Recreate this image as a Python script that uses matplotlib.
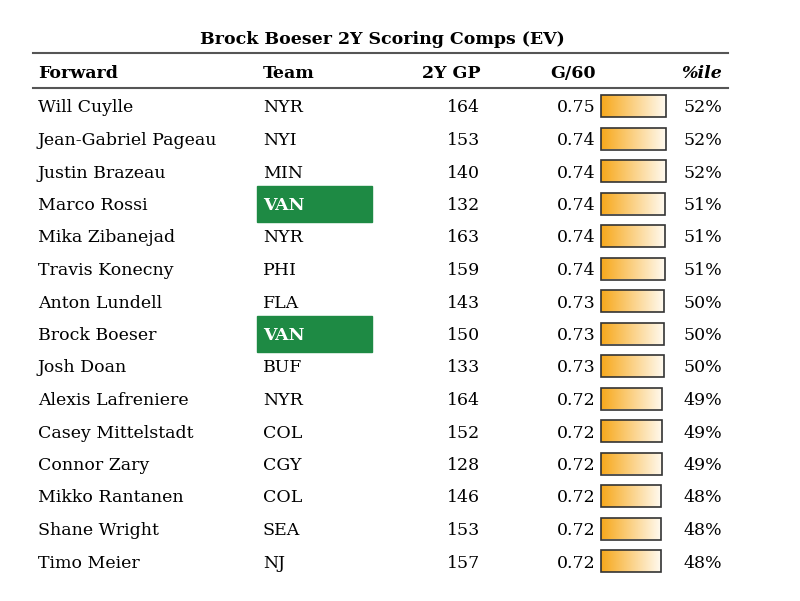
import numpy as np
import matplotlib.pyplot as plt
from matplotlib.colors import LinearSegmentedColormap

players = ["Will Cuylle", "Jean-Gabriel Pageau", "Justin Brazeau", "Marco Rossi",
           "Mika Zibanejad", "Travis Konecny", "Anton Lundell", "Brock Boeser",
           "Josh Doan", "Alexis Lafreniere", "Casey Mittelstadt", "Connor Zary",
           "Mikko Rantanen", "Shane Wright", "Timo Meier"]
teams = ["NYR", "NYI", "MIN", "VAN", "NYR", "PHI", "FLA", "VAN", "BUF", "NYR",
         "COL", "CGY", "COL", "SEA", "NJ"]
gp = [164, 153, 140, 132, 163, 159, 143, 150, 133, 164, 152, 128, 146, 153, 157]
g60 = [0.75, 0.74, 0.74, 0.74, 0.74, 0.74, 0.73, 0.73, 0.73, 0.72, 0.72, 0.72, 0.72, 0.72, 0.72]
pct = [52, 52, 52, 51, 51, 51, 50, 50, 50, 49, 49, 49, 48, 48, 48]

font = "DejaVu Serif"
fs = 12.5
fig = plt.figure(figsize=(8, 6.01), dpi=100)
ax = fig.add_axes([0, 0, 1, 1])
ax.set_xlim(0, 800)
ax.set_ylim(601, 0)
ax.axis("off")

kw = dict(family=font, va="center_baseline")
ax.text(382, 38, "Brock Boeser 2Y Scoring Comps (EV)", ha="center",
        fontsize=12.5, fontweight="bold", **kw)
ax.plot([33, 728], [53, 53], color="#555555", lw=1.5)
ax.plot([33, 728], [88, 88], color="#555555", lw=1.5)
hy = 72
ax.text(38, hy, "Forward", fontsize=fs, fontweight="bold", **kw)
ax.text(263, hy, "Team", fontsize=fs, fontweight="bold", **kw)
ax.text(480, hy, "2Y GP", fontsize=fs, fontweight="bold", ha="right", **kw)
ax.text(596, hy, "G/60", fontsize=fs, fontweight="bold", ha="right", **kw)
ax.text(722, hy, "%ile", fontsize=fs, fontweight="bold", fontstyle="italic",
        ha="right", **kw)

grad = np.linspace(0, 1, 256).reshape(1, -1)
cmap = LinearSegmentedColormap.from_list("o", ["#f7a81b", "#fffaf0"])
ys = 106 + 32.5 * np.arange(len(players))
scale = 1.25
bars = ax.barh(ys, [p * scale for p in pct], left=601, height=22,
               facecolor="none", edgecolor="#333333", lw=1.2, zorder=3)
for i, y in enumerate(ys):
    txt_color = "black"
    weight = "normal"
    if teams[i] == "VAN":
        ax.add_patch(plt.Rectangle((257, y - 18), 115, 36, color="#1e8a44", zorder=1))
        txt_color = "white"
        weight = "bold"
    ax.text(38, y, players[i], fontsize=fs, **kw)
    ax.text(263, y, teams[i], fontsize=fs, color=txt_color, fontweight=weight,
            zorder=2, **kw)
    ax.text(480, y, str(gp[i]), fontsize=fs, ha="right", **kw)
    ax.text(596, y, f"{g60[i]:.2f}", fontsize=fs, ha="right", **kw)
    ax.text(722, y, f"{pct[i]}%", fontsize=fs, ha="right", **kw)
    b = bars[i]
    im = ax.imshow(grad, cmap=cmap, aspect="auto", zorder=2,
                   extent=[b.get_x(), b.get_x() + b.get_width(), y + 11, y - 11])
    im.set_clip_path(b)

fig.savefig("out.png", dpi=100)
